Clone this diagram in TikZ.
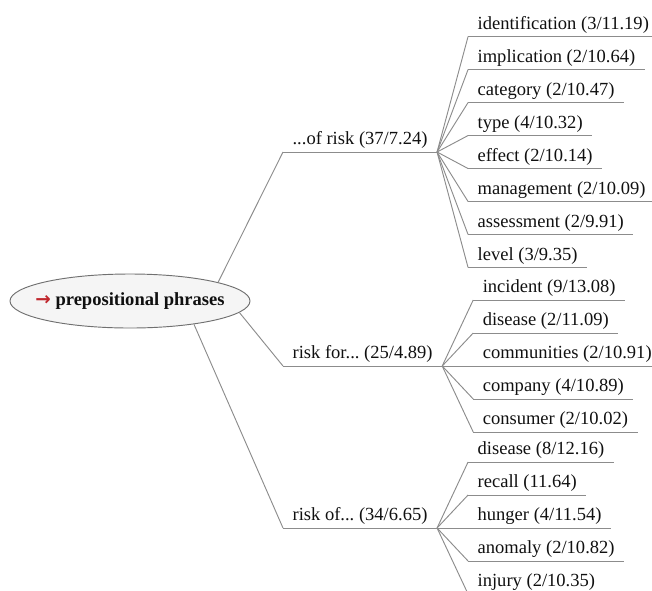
\documentclass[tikz,border=0pt]{standalone}
\usepackage{fontspec}
\setmainfont{Liberation Serif}
\newfontfamily\arrowfont{DejaVu Sans}
\usetikzlibrary{positioning,shapes.geometric}
\definecolor{TreeGray}{HTML}{8C8C8C}
\definecolor{TreeText}{HTML}{101010}
\definecolor{TreeRed}{HTML}{C0272D}
\definecolor{RootFill}{HTML}{F5F5F5}
\definecolor{RootLine}{HTML}{707070}

\begin{document}
\frenchspacing
\begin{tikzpicture}[x=0.75pt, y=-0.75pt, node distance=24.75pt,
  term/.style={anchor=south west, inner xsep=7pt, inner ysep=0pt, text height=9.75pt, text depth=5.25pt, text=TreeText, font=\fontsize{13.9pt}{16pt}\selectfont},
  link/.style={draw=TreeGray, line width=0.7pt}]
  \useasboundingbox (0,0) rectangle (652,590);
  \clip (0,0) rectangle (652,590);

  \node[ellipse, draw=RootLine, fill=RootFill, line width=0.7pt, inner xsep=-15pt, inner ysep=0pt, minimum width=180pt, minimum height=40.5pt, text=TreeText, font=\fontsize{13.9pt}{16pt}\selectfont\bfseries] (root) at (130,301) {{\arrowfont\color{TreeRed}→}\ prepositional phrases};

  \node[term] (ofrisk) at (283,152) {...of risk (37/7.24)};
  \node[term] (riskfor) at (283,366) {risk for... (25/4.89)};
  \node[term] (riskof) at (283,528) {risk of... (34/6.65)};

  % ...of risk
  \node[term, above right=86.6pt and 23.25pt of ofrisk.south east, anchor=south west] (identification) {identification (3/11.19)};
  \node[term, below=of identification.south west, anchor=south west] (implication) {implication (2/10.64)};
  \node[term, below=of implication.south west, anchor=south west] (category) {category (2/10.47)};
  \node[term, below=of category.south west, anchor=south west] (type) {type (4/10.32)};
  \node[term, below=of type.south west, anchor=south west] (effect) {effect (2/10.14)};
  \node[term, below=of effect.south west, anchor=south west] (management) {management (2/10.09)};
  \node[term, below=of management.south west, anchor=south west] (assessment) {assessment (2/9.91)};
  \node[term, below=of assessment.south west, anchor=south west] (level) {level (3/9.35)};

  % risk for...
  \node[term, above right=49.5pt and 23.25pt of riskfor.south east, anchor=south west] (incident) {incident (9/13.08)};
  \node[term, below=of incident.south west, anchor=south west] (fdisease) {disease (2/11.09)};
  \node[term, below=of fdisease.south west, anchor=south west] (communities) {communities (2/10.91)};
  \node[term, below=of communities.south west, anchor=south west] (company) {company (4/10.89)};
  \node[term, below=of company.south west, anchor=south west] (consumer) {consumer (2/10.02)};

  % risk of...
  \node[term, above right=49.5pt and 23.25pt of riskof.south east, anchor=south west] (odisease) {disease (8/12.16)};
  \node[term, below=of odisease.south west, anchor=south west] (recall) {recall (11.64)};
  \node[term, below=of recall.south west, anchor=south west] (hunger) {hunger (4/11.54)};
  \node[term, below=of hunger.south west, anchor=south west] (anomaly) {anomaly (2/10.82)};
  \node[term, below=of anomaly.south west, anchor=south west] (injury) {injury (2/10.35)};

  % underlines
  \foreach \n in {ofrisk,riskfor,riskof,identification,implication,category,type,effect,management,assessment,level,incident,fdisease,communities,company,consumer,odisease,recall,hunger,anomaly,injury}
    \draw[link] (\n.south west) -- (\n.south east);

  % connectors
  \draw[link] (root.12) -- (ofrisk.south west);
  \draw[link] (root.-6) -- (riskfor.south west);
  \draw[link] (root.-20) -- (riskof.south west);
  \foreach \c in {identification,implication,category,type,effect,management,assessment,level}
    \draw[link] (ofrisk.south east) -- (\c.south west);
  \foreach \c in {incident,fdisease,communities,company,consumer}
    \draw[link] (riskfor.south east) -- (\c.south west);
  \foreach \c in {odisease,recall,hunger,anomaly,injury}
    \draw[link] (riskof.south east) -- (\c.south west);
\end{tikzpicture}
\end{document}
